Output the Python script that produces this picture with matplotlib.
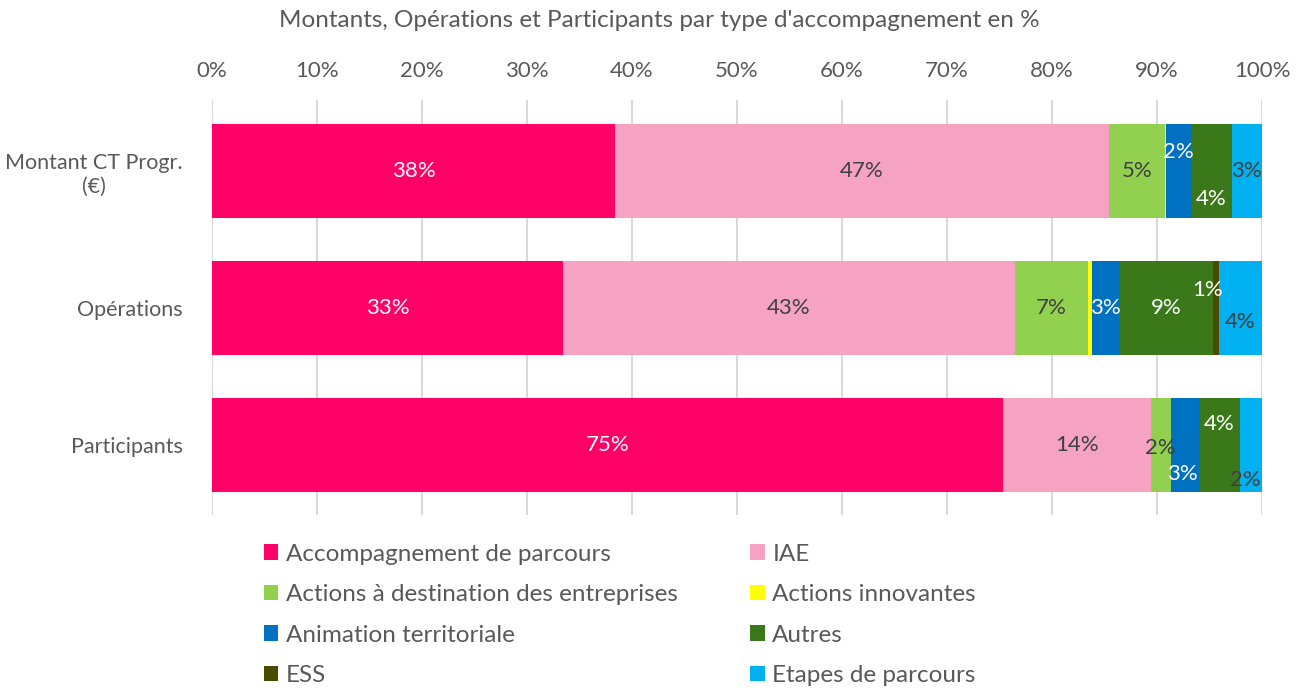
import matplotlib.pyplot as plt
from matplotlib.patches import Patch

plt.rcParams['font.family'] = ['Lato', 'DejaVu Sans']

categories = ['Montant CT Progr.\n(€)', 'Opérations', 'Participants']
series = ['Accompagnement de parcours', 'IAE',
          'Actions à destination des entreprises', 'Actions innovantes',
          'Animation territoriale', 'Autres', 'ESS', 'Etapes de parcours']
values = {
    'Accompagnement de parcours': [38.4, 33.4, 75.3],
    'IAE': [47.0, 43.1, 14.1],
    'Actions à destination des entreprises': [5.4, 6.9, 1.9],
    'Actions innovantes': [0.1, 0.4, 0.0],
    'Animation territoriale': [2.3, 2.6, 2.7],
    'Autres': [3.9, 8.9, 3.9],
    'ESS': [0.0, 0.6, 0.0],
    'Etapes de parcours': [2.9, 4.1, 2.1],
}

couleurs = {
    'Accompagnement de parcours': '#FF0066',
    'IAE': '#F5A3C0',
    'Actions à destination des entreprises': '#92D050',
    'Actions innovantes': '#FFFF00',
    'Animation territoriale': '#0070C0',
    'Autres': '#3A7819',
    'ESS': '#4A4A00',
    'Etapes de parcours': '#00B0F0',
}
texte_clair = {'Accompagnement de parcours', 'Animation territoriale', 'Autres', 'ESS'}

# décalages des étiquettes (en points) : (série, catégorie) -> (dx, dy)
decalages = {
    ('Animation territoriale', 0): (0, 14),
    ('Autres', 0): (0, -20),
    ('ESS', 1): (-6, 13),
    ('Etapes de parcours', 1): (0, -10),
    ('Actions à destination des entreprises', 2): (0, -2),
    ('Animation territoriale', 2): (-2, -21),
    ('Autres', 2): (0, 15),
    ('Etapes de parcours', 2): (-4, -25),
}

gris = '#595959'
fig = plt.figure(figsize=(13.01, 6.91), dpi=100)
ax = fig.add_axes([212 / 1301, 1 - 515 / 691, 1050 / 1301, 415 / 691])

y = list(range(len(categories)))
gauche = [0.0] * len(categories)
for s in series:
    v = values[s]
    ax.barh(y, v, left=gauche, height=0.686, color=couleurs[s], zorder=2)
    for i, val in enumerate(v):
        if round(val) >= 1:
            dx, dy = decalages.get((s, i), (0, 0))
            ax.annotate(f'{val:.0f}%', (gauche[i] + val / 2, i),
                        xytext=(dx, dy), textcoords='offset points',
                        ha='center', va='center', fontsize=16,
                        color='white' if s in texte_clair else '#404040',
                        zorder=3)
    gauche = [g + val for g, val in zip(gauche, v)]

ax.set_xlim(0, 100)
ax.set_ylim(2.51, -0.52)
ax.set_xticks(range(0, 101, 10))
ax.set_xticklabels([f'{t}%' for t in range(0, 101, 10)])
ax.xaxis.tick_top()
ax.set_yticks(y)
ax.set_yticklabels(categories, multialignment='center')
ax.tick_params(axis='both', length=0, labelsize=16, colors=gris)
ax.tick_params(axis='y', labelsize=15.5, pad=21)
ax.tick_params(axis='x', pad=14)
ax.grid(axis='x', color='#D9D9D9', linewidth=1.5, zorder=0)
for sp in ax.spines.values():
    sp.set_visible(False)

fig.text(0.507, 0.971, "Montants, Opérations et Participants par type d'accompagnement en %",
         ha='center', va='center', fontsize=17.5, color=gris)

# légende remplie ligne par ligne sur deux colonnes
ordre = series[0::2] + series[1::2]
poignees = [Patch(facecolor=couleurs[s]) for s in ordre]
fig.legend(poignees, ordre, ncol=2, loc='upper left',
           bbox_to_anchor=(254 / 1301, 1 - 534 / 691), frameon=False,
           fontsize=17.5, labelcolor=gris, handlelength=0.6, handleheight=0.6,
           handletextpad=0.3, columnspacing=3.0, labelspacing=0.8, borderaxespad=0)

fig.savefig('out.png', dpi=100)
